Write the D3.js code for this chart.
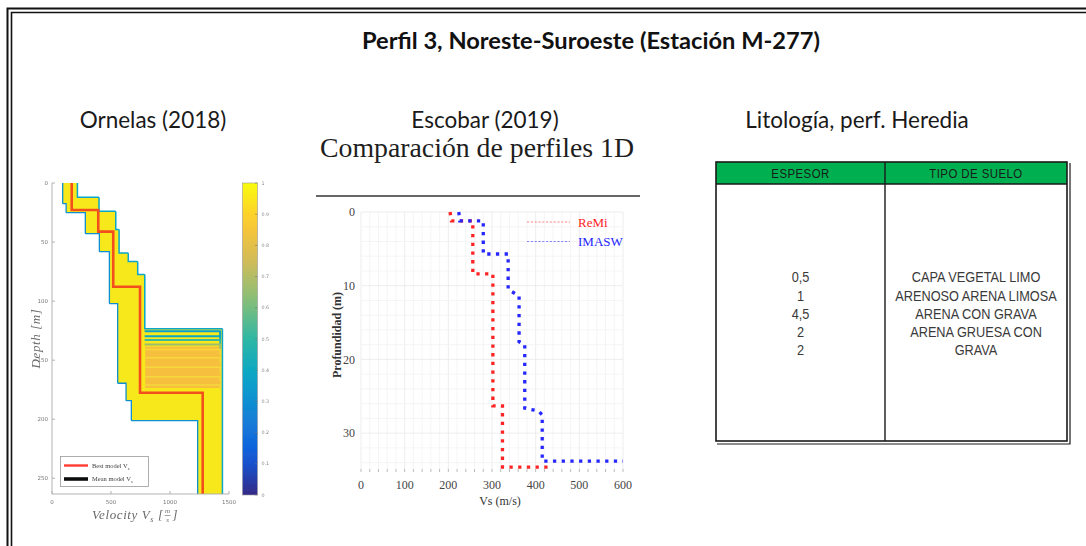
<!DOCTYPE html>
<html>
<head>
<meta charset="utf-8">
<script src="https://cdn.jsdelivr.net/npm/d3@7"></script>
<style>
  html, body { margin: 0; padding: 0; background: #fff; }
  svg { display: block; }
</style>
</head>
<body>
<svg id="fig" width="1086" height="546"></svg>
<script>
// ---------------- Ornelas (2018): Vs inversion ensemble ----------------
// best model (layer tops in m, Vs in m/s)
const bestTop = [0, 22.9, 41.2, 87.8, 177.6];
const bestVs  = [167, 392, 519, 746, 1277];
// slowest / fastest envelope of the accepted models
const envMinTop = [0, 16.9, 24.5, 42.3, 57.6, 101.6, 169, 183.7, 200.7];
const envMinVs  = [96, 125, 288, 407, 492, 562, 633, 678, 1240];
const envMaxTop = [0, 12.7, 24.5, 40, 60, 67, 78, 124];
const envMaxVs  = [209, 392, 534, 562, 640, 720, 780, 1438];
// depth of the jump to the half-space for the individual models, with their misfit colour value
const jumpDepth  = [125.6, 129.8, 133, 136.8, 141, 148, 156, 164, 171];
const jumpValue  = [0.36, 0.40, 0.52, 0.66, 0.97, 0.93, 0.97, 0.93, 0.98];
const ornDepthTicks = [0, 50, 100, 150, 200, 250];
const ornVsTicks = [0, 500, 1000, 1500];
const cbarTicks = [0, 0.1, 0.2, 0.3, 0.4, 0.5, 0.6, 0.7, 0.8, 0.9, 1];

// ---------------- Escobar (2019): 1D profile comparison ----------------
const remiVs    = [204, 207, 256, 256, 302, 302, 324, 324, 436];
const remiDepth = [0, 1.2, 1.2, 8.4, 8.4, 26.3, 26.3, 34.6, 34.6];
const imaswVs    = [224, 226, 280, 280, 337, 337, 362, 362, 375, 375, 406, 415, 415, 600];
const imaswDepth = [0, 1.2, 1.2, 5.7, 5.7, 10.5, 11.4, 17.6, 18.0, 26.6, 27.0, 27.5, 33.8, 33.8];
const escVsTicks = [0, 100, 200, 300, 400, 500, 600];
const escDepthTicks = [0, 10, 20, 30];

// ---------------- Lithology log (Heredia well) ----------------
const tableHeader = ["ESPESOR", "TIPO DE SUELO"];
const espesor = ["0,5", "1", "4,5", "2", "2"];
const tipoSuelo = ["CAPA VEGETAL LIMO", "ARENOSO ARENA LIMOSA", "ARENA CON GRAVA", "ARENA GRUESA CON", "GRAVA"];

// =====================================================================
const svg = d3.select("#fig");
const defs = svg.append("defs");

// parula colour map
const parulaStops = ["#352a87", "#0f5cdd", "#1481d6", "#06a4ca", "#2eb7a4", "#87bf77", "#d1bb59", "#fec832", "#f9fb0e"];
const parula = d3.scaleLinear()
  .domain(parulaStops.map((_, i) => i / (parulaStops.length - 1)))
  .range(parulaStops)
  .interpolate(d3.interpolateRgb);

defs.append("filter").attr("id", "soft")
  .append("feGaussianBlur").attr("stdDeviation", 0.7);

// ---------- outer frame (double line) ----------
const frame = svg.append("g").attr("fill", "none").attr("stroke", "#111");
frame.append("path").attr("d", "M7.5,546V8.5H1086").attr("stroke-width", 2);
frame.append("path").attr("d", "M11.5,546V12.5H1086").attr("stroke-width", 1.6);

// ---------- headings ----------
svg.append("text")
  .attr("x", 591).attr("y", 49)
  .attr("text-anchor", "middle")
  .attr("textLength", 458).attr("lengthAdjust", "spacingAndGlyphs")
  .style("font-family", "Lato, 'Open Sans', sans-serif")
  .style("font-weight", "bold").style("font-size", "22px").attr("fill", "#111")
  .text("Perfil 3, Noreste-Suroeste (Estación M-277)");

const subtitles = [
  { text: "Ornelas (2018)", x: 153 },
  { text: "Escobar (2019)", x: 485 },
  { text: "Litología, perf. Heredia", x: 857 }
];
svg.append("g").selectAll("text").data(subtitles).join("text")
  .attr("x", d => d.x).attr("y", 128)
  .attr("text-anchor", "middle")
  .style("font-family", "Lato, 'Open Sans', sans-serif")
  .style("font-size", "22.5px").attr("fill", "#1a1a1a")
  .text(d => d.text);

// =====================================================================
// Ornelas panel
const orn = svg.append("g").attr("filter", "url(#soft)");
const xO = d3.scaleLinear().domain([0, 1500]).range([52, 229]);
const yO = d3.scaleLinear().domain([0, 263.3]).range([183, 494]);
const depthMax = yO.domain()[1];

function stepVerts(tops, vs, bottom) {
  const pts = [];
  tops.forEach((t, i) => {
    const b = i < tops.length - 1 ? tops[i + 1] : bottom;
    pts.push([vs[i], t], [vs[i], b]);
  });
  return pts;
}
const lineO = d3.line().x(d => xO(d[0])).y(d => yO(d[1]));

defs.append("clipPath").attr("id", "ornClip")
  .append("rect").attr("x", xO(0)).attr("y", yO(0))
  .attr("width", xO(1500) - xO(0) + 2).attr("height", yO(depthMax) - yO(0));

const ens = orn.append("g").attr("clip-path", "url(#ornClip)");
const minPts = stepVerts(envMinTop, envMinVs, depthMax);
const maxPts = stepVerts(envMaxTop, envMaxVs, depthMax);

// low-misfit models that bound the ensemble
ens.append("path").attr("d", lineO(minPts)).attr("fill", "none")
  .attr("stroke", parula(0.3)).attr("stroke-width", 2.6).attr("stroke-linejoin", "round");
ens.append("path").attr("d", lineO(maxPts)).attr("fill", "none")
  .attr("stroke", parula(0.38)).attr("stroke-width", 3).attr("stroke-linejoin", "round");

// body of the ensemble (high-value models)
ens.append("path")
  .attr("d", lineO(minPts.concat(maxPts.slice().reverse())) + "Z")
  .attr("fill", "#f7e81c");

// models that reach the half-space at different depths
const hiJumps = jumpDepth.filter((d, i) => jumpValue[i] > 0.8);
ens.append("rect")
  .attr("x", xO(790)).attr("y", yO(d3.min(hiJumps)) - 3)
  .attr("width", xO(1428) - xO(790))
  .attr("height", yO(d3.max(hiJumps)) - yO(d3.min(hiJumps)) + 6)
  .attr("fill", "#f6bf3c");
ens.append("g").selectAll("path").data(jumpDepth.map((d, i) => ({ d, v: jumpValue[i] })))
  .join("path")
  .attr("d", p => lineO([[785, p.d], [1425, p.d], [1425, p.d + 4]]))
  .attr("fill", "none")
  .attr("stroke", p => p.v > 0.8 ? "#f7d83a" : parula(p.v))
  .attr("stroke-width", p => p.v > 0.8 ? 1.4 : 2)
  .attr("stroke-linejoin", "round");

// best model
ens.append("path").attr("d", lineO(stepVerts(bestTop, bestVs, depthMax)))
  .attr("fill", "none").attr("stroke", "#f34f1d").attr("stroke-width", 2.6);

// axes
const axO = orn.append("g").attr("stroke", "#aaa").attr("fill", "none").attr("stroke-width", 0.9);
axO.append("path").attr("d", `M${xO(0)},${yO(0)}V${yO(depthMax)}H${xO(1500)}`);
axO.selectAll(".ty").data(ornDepthTicks).join("path")
  .attr("d", d => `M${xO(0)},${yO(d)}h3`);
axO.selectAll(".tx").data(ornVsTicks).join("path")
  .attr("d", d => `M${xO(d)},${yO(depthMax)}v-3`);
orn.append("g").selectAll("text").data(ornDepthTicks).join("text")
  .attr("x", xO(0) - 4).attr("y", d => yO(d)).attr("dy", "0.35em")
  .attr("text-anchor", "end").style("font-family", "DejaVu Sans, sans-serif")
  .style("font-size", "5.5px").attr("fill", "#777").text(d => d);
orn.append("g").selectAll("text").data(ornVsTicks).join("text")
  .attr("x", d => xO(d)).attr("y", yO(depthMax) + 10)
  .attr("text-anchor", "middle").style("font-family", "DejaVu Sans, sans-serif")
  .style("font-size", "5.5px").attr("fill", "#777").text(d => d);

// axis titles
orn.append("text")
  .attr("transform", `translate(40,${(yO(0) + yO(depthMax)) / 2}) rotate(-90)`)
  .attr("text-anchor", "middle")
  .style("font-family", "'Liberation Serif', serif").style("font-style", "italic")
  .style("font-size", "13px").style("letter-spacing", "0.6px").attr("fill", "#6a6a6a")
  .text("Depth [m]");

const xt = orn.append("g").attr("fill", "#6a6a6a")
  .style("font-family", "'Liberation Serif', serif").style("font-style", "italic");
const xtMain = xt.append("text").attr("x", 92).attr("y", 519).style("font-size", "13px")
  .style("letter-spacing", "0.6px");
xtMain.append("tspan").text("Velocity V");
xtMain.append("tspan").attr("dy", 3).style("font-size", "8px").text("s");
xtMain.append("tspan").attr("dy", -3).text(" [");
const wMain = xtMain.node().getComputedTextLength();
const fx = 92 + wMain + 4;
xt.append("text").attr("x", fx).attr("y", 513).attr("text-anchor", "middle").style("font-size", "7px").text("m");
xt.append("text").attr("x", fx).attr("y", 522).attr("text-anchor", "middle").style("font-size", "7px").text("s");
xt.append("line").attr("x1", fx - 3).attr("x2", fx + 3).attr("y1", 515.5).attr("y2", 515.5)
  .attr("stroke", "#6a6a6a").attr("stroke-width", 0.6);
xt.append("text").attr("x", fx + 5).attr("y", 519).style("font-size", "13px").text("]");

// legend
const lg = orn.append("g");
lg.append("rect").attr("x", 60.5).attr("y", 456.5).attr("width", 88).attr("height", 30)
  .attr("fill", "#fff").attr("stroke", "#999").attr("stroke-width", 0.8);
const legendItems = [
  { label: "Best model V", color: "#ff3b30", w: 2.4, y: 465.5 },
  { label: "Mean model V", color: "#111", w: 3.6, y: 479 }
];
legendItems.forEach(it => {
  lg.append("line").attr("x1", 64).attr("x2", 88).attr("y1", it.y).attr("y2", it.y)
    .attr("stroke", it.color).attr("stroke-width", it.w);
  const t = lg.append("text").attr("x", 92).attr("y", it.y).attr("dy", "0.35em")
    .style("font-family", "'Liberation Serif', serif").style("font-size", "6.5px").attr("fill", "#444");
  t.append("tspan").text(it.label);
  t.append("tspan").attr("dy", 2).style("font-size", "4.5px").text("s");
});

// colour bar
const cbX = 242.5, cbW = 15;
const cbY = d3.scaleLinear().domain([0, 1]).range([495, 183]);
const grad = defs.append("linearGradient").attr("id", "parulaGrad")
  .attr("x1", 0).attr("y1", 1).attr("x2", 0).attr("y2", 0);
d3.range(0, 1.0001, 0.05).forEach(t => {
  grad.append("stop").attr("offset", t).attr("stop-color", parula(t));
});
orn.append("rect").attr("x", cbX).attr("y", cbY(1)).attr("width", cbW)
  .attr("height", cbY(0) - cbY(1)).attr("fill", "url(#parulaGrad)")
  .attr("stroke", "#999").attr("stroke-width", 0.6);
orn.append("g").selectAll("path").data(cbarTicks).join("path")
  .attr("d", d => `M${cbX + cbW},${cbY(d)}h-2.5`).attr("stroke", "#777").attr("stroke-width", 0.6);
orn.append("g").selectAll("text").data(cbarTicks).join("text")
  .attr("x", cbX + cbW + 4).attr("y", d => cbY(d)).attr("dy", "0.35em")
  .style("font-family", "DejaVu Sans, sans-serif").style("font-size", "4.8px").attr("fill", "#888")
  .text(d => d);

// =====================================================================
// Escobar panel
const esc = svg.append("g");
const xE = d3.scaleLinear().domain([0, 600]).range([361, 623]);
const yE = d3.scaleLinear().domain([0, 35]).range([212, 470]);

esc.append("text").attr("x", 477).attr("y", 157).attr("text-anchor", "middle")
  .attr("textLength", 314).attr("lengthAdjust", "spacingAndGlyphs")
  .style("font-family", "'Liberation Serif', 'DejaVu Serif', serif").style("font-size", "26.5px")
  .attr("fill", "#1e1e1e").text("Comparación de perfiles 1D");
esc.append("line").attr("x1", 316).attr("x2", 640).attr("y1", 196).attr("y2", 196)
  .attr("stroke", "#333").attr("stroke-width", 1.6);

// grid
const grid = esc.append("g").attr("stroke-width", 0.8);
grid.selectAll(".gv").data(d3.range(0, 601, 20)).join("line")
  .attr("x1", d => xE(d)).attr("x2", d => xE(d)).attr("y1", yE(0)).attr("y2", yE(35))
  .attr("stroke", d => d % 100 === 0 ? "#e9e9e9" : "#f3f3f3");
grid.selectAll(".gh").data(d3.range(0, 35.1, 2)).join("line")
  .attr("y1", d => yE(d)).attr("y2", d => yE(d)).attr("x1", xE(0)).attr("x2", xE(600))
  .attr("stroke", d => d % 10 === 0 ? "#e9e9e9" : "#f3f3f3");
esc.append("g").selectAll("line").data(d3.range(0, 601, 20)).join("line")
  .attr("x1", d => xE(d)).attr("x2", d => xE(d)).attr("y1", yE(35) - 1).attr("y2", yE(35) + 2)
  .attr("stroke", "#bbb").attr("stroke-width", 1);

// axes labels
const serif = "'Liberation Serif', 'DejaVu Serif', serif";
esc.append("g").selectAll("text").data(escVsTicks).join("text")
  .attr("x", d => xE(d)).attr("y", 489).attr("text-anchor", "middle")
  .style("font-family", serif).style("font-size", "12px").attr("fill", "#444").text(d => d);
esc.append("g").selectAll("text").data(escDepthTicks).join("text")
  .attr("x", 355).attr("y", d => yE(d)).attr("dy", "0.35em").attr("text-anchor", "end")
  .style("font-family", serif).style("font-size", "12px").attr("fill", "#444").text(d => d);
esc.append("text").attr("x", 500).attr("y", 505).attr("text-anchor", "middle")
  .style("font-family", serif).style("font-size", "12px").attr("fill", "#333").text("Vs (m/s)");
esc.append("text").attr("transform", "translate(341,335) rotate(-90)").attr("text-anchor", "middle")
  .style("font-family", serif).style("font-weight", "bold").style("font-size", "12px")
  .attr("fill", "#333").text("Profundidad (m)");

// profiles
const lineE = d3.line().x(d => xE(d[0])).y(d => yE(d[1]));
const series = [
  { name: "ReMi", vs: remiVs, depth: remiDepth, color: "#ff2424", ly: 222 },
  { name: "IMASW", vs: imaswVs, depth: imaswDepth, color: "#2626ff", ly: 241.5 }
];
series.forEach(s => {
  esc.append("path")
    .attr("d", lineE(s.vs.map((v, i) => [v, s.depth[i]])))
    .attr("fill", "none").attr("stroke", s.color).attr("stroke-width", 3.3)
    .attr("stroke-dasharray", "3.3,5.4");
  esc.append("line").attr("x1", 527).attr("x2", 570).attr("y1", s.ly).attr("y2", s.ly)
    .attr("stroke", s.color).attr("stroke-opacity", 0.55).attr("stroke-width", 1.1)
    .attr("stroke-dasharray", "2.2,1.6");
  esc.append("text").attr("x", 578).attr("y", s.ly).attr("dy", "0.35em")
    .style("font-family", serif).style("font-size", "13px").attr("fill", s.color).text(s.name);
});

// =====================================================================
// Lithology table
const tb = svg.append("g");
const tL = 716, tR = 1067, tT = 162, tB = 441, tMid = 885, tHead = 184;
tb.append("rect").attr("x", tL).attr("y", tT).attr("width", tR - tL).attr("height", tHead - tT)
  .attr("fill", "#00b050");
tb.append("rect").attr("x", tL).attr("y", tT).attr("width", tR - tL).attr("height", tB - tT)
  .attr("fill", "none").attr("stroke", "#1a1a1a").attr("stroke-width", 1.6);
tb.append("path").attr("d", `M${tR + 3},${tT + 1}V${tB + 3}H${tL + 1}`)
  .attr("fill", "none").attr("stroke", "#1a1a1a").attr("stroke-width", 1.2);
tb.append("line").attr("x1", tL).attr("x2", tR).attr("y1", tHead).attr("y2", tHead)
  .attr("stroke", "#1a1a1a").attr("stroke-width", 1.4);
tb.append("line").attr("x1", tMid).attr("x2", tMid).attr("y1", tT).attr("y2", tB)
  .attr("stroke", "#1a1a1a").attr("stroke-width", 1.4);

const colX = [(tL + tMid) / 2, (tMid + tR) / 2];
const sans = "'Liberation Sans', Arial, sans-serif";
tb.append("g").selectAll("text").data(tableHeader).join("text")
  .attr("transform", (d, i) => `translate(${colX[i]},${(tT + tHead) / 2}) scale(0.88,1)`)
  .attr("dy", "0.36em")
  .attr("text-anchor", "middle").style("font-family", sans).style("font-size", "13px")
  .style("letter-spacing", "0.5px").attr("fill", "#1a1a1a").text(d => d);

const rowY = d3.scaleLinear().domain([0, espesor.length - 1]).range([277, 350]);
tb.append("g").selectAll("text").data(espesor).join("text")
  .attr("transform", (d, i) => `translate(${colX[0]},${rowY(i)}) scale(0.85,1)`)
  .attr("dy", "0.36em")
  .attr("text-anchor", "middle").style("font-family", sans).style("font-size", "15px")
  .attr("fill", "#3a3a3a").text(d => d);
tb.append("g").selectAll("text").data(tipoSuelo).join("text")
  .attr("transform", (d, i) => `translate(${colX[1]},${rowY(i)}) scale(0.85,1)`)
  .attr("dy", "0.36em")
  .attr("text-anchor", "middle").style("font-family", sans).style("font-size", "15px")
  .attr("fill", "#3a3a3a").text(d => d);
</script>
</body>
</html>
